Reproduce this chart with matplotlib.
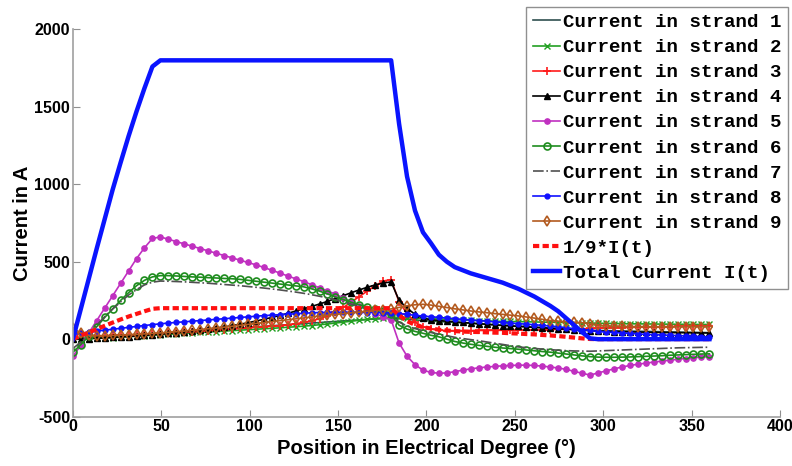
import numpy as np
import matplotlib
matplotlib.use('Agg')
import matplotlib.pyplot as plt

plt.rcParams['axes.unicode_minus'] = False

# Winkel (Grad) -- Messpunkte alle 4.5 Grad
winkel = np.arange(0, 360.1, 4.5)

strang1 = [0, 3, 6, 10, 13, 16, 20, 23, 27, 30,
           34, 37, 41, 44, 48, 51, 55, 58, 62, 65,
           69, 72, 76, 79, 83, 86, 90, 93, 97, 100,
           104, 107, 111, 114, 118, 121, 124, 127, 130, 132,
           134, 132, 128, 124, 120, 117, 114, 111, 108, 105,
           102, 99, 96, 93, 90, 87, 84, 81, 78, 75,
           72, 69, 66, 63, 60, 58, 56, 55, 54, 53,
           52, 51, 50, 49, 48, 47, 46, 45, 44, 43,
           42]
strang2 = [0, 2, 4, 6, 8, 10, 13, 16, 19, 22,
           25, 28, 31, 34, 37, 40, 43, 46, 49, 52,
           55, 58, 61, 64, 67, 70, 73, 77, 80, 84,
           88, 93, 98, 104, 110, 116, 122, 128, 133, 138,
           142, 140, 138, 136, 134, 132, 130, 128, 126, 124,
           122, 120, 118, 116, 115, 114, 113, 112, 111, 110,
           109, 108, 107, 106, 105, 104, 103, 102, 101, 100,
           99, 99, 98, 98, 97, 97, 96, 96, 95, 95,
           95]
strang3 = [50, 35, 25, 22, 22, 24, 26, 28, 30, 32,
           34, 36, 38, 41, 44, 47, 50, 53, 57, 61,
           65, 69, 73, 77, 80, 84, 88, 93, 100, 108,
           118, 132, 150, 175, 205, 240, 275, 310, 345, 375,
           385, 240, 165, 110, 80, 65, 58, 55, 55, 55,
           55, 56, 56, 57, 57, 58, 58, 59, 60, 61,
           62, 63, 64, 65, 67, 69, 72, 73, 74, 75,
           76, 77, 78, 79, 80, 81, 82, 83, 84, 85,
           85]
strang4 = [0, 2, 4, 6, 8, 11, 14, 17, 20, 24,
           28, 32, 37, 42, 47, 53, 59, 65, 72, 79,
           87, 96, 106, 117, 128, 140, 153, 167, 181, 196,
           211, 227, 244, 262, 281, 300, 318, 335, 350, 362,
           370, 250, 200, 160, 135, 125, 120, 116, 112, 108,
           104, 100, 96, 92, 88, 85, 82, 79, 76, 73,
           70, 67, 64, 61, 58, 55, 52, 50, 49, 48,
           47, 46, 45, 44, 43, 42, 42, 41, 41, 40,
           40]
strang5 = [-110, -40, 40, 120, 200, 280, 360, 440, 520, 590,
           650, 660, 645, 630, 615, 600, 585, 570, 555, 540,
           525, 510, 495, 480, 463, 445, 427, 408, 390, 372,
           352, 332, 312, 290, 265, 240, 215, 190, 165, 145,
           125, -25, -110, -165, -200, -215, -220, -218, -210, -200,
           -192, -185, -180, -176, -172, -170, -168, -168, -170, -174,
           -180, -186, -195, -208, -220, -232, -218, -205, -192, -180,
           -170, -162, -155, -148, -142, -136, -130, -125, -120, -116,
           -113]
strang6 = [-85, -35, 20, 80, 140, 195, 250, 300, 345, 380,
           402, 410, 410, 408, 405, 402, 400, 397, 395, 392,
           390, 386, 380, 374, 368, 362, 356, 350, 344, 338,
           325, 310, 292, 272, 255, 238, 222, 208, 195, 180,
           160, 90, 65, 50, 38, 25, 15, 0, -15, -25,
           -33, -40, -46, -52, -57, -61, -65, -70, -75, -80,
           -84, -90, -96, -102, -108, -113, -116, -117, -117, -116,
           -115, -113, -111, -109, -107, -104, -102, -100, -98, -96,
           -95]
strang7 = [-60, -20, 35, 90, 145, 195, 240, 285, 320, 350,
           368, 375, 374, 372, 370, 367, 364, 361, 357, 353,
           349, 345, 340, 335, 330, 324, 318, 311, 304, 296,
           287, 277, 266, 254, 240, 226, 212, 198, 184, 170,
           155, 110, 85, 68, 55, 43, 32, 22, 12, 4,
           -3, -10, -18, -26, -34, -42, -50, -55, -60, -64,
           -68, -71, -74, -76, -77, -78, -76, -74, -72, -70,
           -68, -66, -64, -62, -60, -58, -56, -55, -54, -53,
           -52]
strang8 = [30, 38, 45, 52, 58, 64, 70, 76, 82, 88,
           94, 99, 104, 108, 112, 116, 120, 124, 128, 132,
           136, 140, 144, 148, 152, 155, 158, 161, 164, 167,
           170, 172, 173, 174, 174, 174, 173, 172, 172, 171,
           170, 165, 160, 154, 149, 145, 140, 136, 132, 128,
           124, 120, 116, 112, 108, 104, 100, 97, 93, 89,
           85, 80, 74, 68, 62, 56, 50, 46, 43, 40,
           37, 34, 31, 29, 27, 25, 23, 21, 19, 17,
           15]
strang9 = [70, 40, 25, 22, 22, 24, 26, 28, 31, 34,
           37, 40, 44, 48, 52, 57, 62, 67, 72, 77,
           83, 89, 95, 101, 107, 113, 119, 125, 131, 137,
           143, 149, 155, 160, 165, 170, 175, 180, 185, 190,
           195, 205, 215, 222, 225, 220, 212, 204, 196, 189,
           182, 176, 171, 165, 160, 155, 150, 143, 136, 128,
           120, 116, 112, 109, 106, 100, 90, 85, 83, 82,
           81, 81, 81, 80, 80, 80, 80, 80, 80, 80,
           80]
neuntel = [0, 22, 43, 65, 86, 107, 127, 146, 163, 180,
           196, 200, 200, 200, 200, 200, 200, 200, 200, 200,
           200, 200, 200, 200, 200, 200, 200, 200, 200, 200,
           200, 200, 200, 200, 200, 200, 200, 200, 200, 200,
           200, 154, 117, 92, 77, 69, 61, 56, 52, 49,
           47, 46, 44, 42, 41, 38, 36, 33, 31, 27,
           24, 20, 15, 10, 5, 1, 0, 0, 0, 0,
           0, 0, 0, 0, 0, 0, 0, 0, 0, 0,
           0]
gesamt = [0, 195, 390, 585, 775, 965, 1140, 1310, 1470, 1620,
          1760, 1800, 1800, 1800, 1800, 1800, 1800, 1800, 1800, 1800,
          1800, 1800, 1800, 1800, 1800, 1800, 1800, 1800, 1800, 1800,
          1800, 1800, 1800, 1800, 1800, 1800, 1800, 1800, 1800, 1800,
          1800, 1390, 1050, 830, 690, 620, 545, 500, 465, 445,
          425, 410, 395, 380, 365, 345, 325, 300, 275, 245,
          215, 180, 135, 90, 45, 5, 0, 0, 0, 0,
          0, 0, 0, 0, 0, 0, 0, 0, 0, 0,
          0]

fig = plt.figure(figsize=(7.92, 4.66), dpi=100)
ax = fig.add_axes([0.092, 0.106, 0.893, 0.831])

ax.plot(winkel, strang1, color='#2f4f4f', lw=1.2, label='Current in strand 1')
ax.plot(winkel, strang2, color='#22a022', lw=1.2, marker='x', ms=4, mew=1, label='Current in strand 2')
ax.plot(winkel, strang3, color='#ff1a1a', lw=1.2, marker='+', ms=6, mew=1.2, label='Current in strand 3')
ax.plot(winkel, strang4, color='k', lw=1.2, marker='^', ms=4.5, label='Current in strand 4')
ax.plot(winkel, strang5, color='#c030c0', lw=1.2, marker='o', ms=3.8, label='Current in strand 5')
ax.plot(winkel, strang6, color='#1e8c1e', lw=1.2, marker='o', ms=5, mfc='none', mew=1.2, label='Current in strand 6')
ax.plot(winkel, strang7, color='#505050', lw=1.2, ls='-.', label='Current in strand 7')
ax.plot(winkel, strang8, color='#1010ff', lw=1.2, marker='o', ms=3.5, label='Current in strand 8')
ax.plot(winkel, strang9, color='#b35a1f', lw=1.2, marker='d', ms=5, mfc='none', mew=1.2, label='Current in strand 9')
ax.plot(winkel, neuntel, color='#ff1010', lw=3, ls=(0, (1.5, 0.8)), label='1/9*I(t)')
ax.plot(winkel, gesamt, color='#0a14ff', lw=3.2, label='Total Current I(t)')

ax.set_xlim(0, 400)
ax.set_ylim(-500, 2000)
ax.set_xticks(np.arange(0, 401, 50))
ax.set_yticks(np.arange(-500, 2001, 500))
for s in ['top', 'right']:
    ax.spines[s].set_visible(False)
for s in ['left', 'bottom']:
    ax.spines[s].set_color('#a0a0a0')
    ax.spines[s].set_linewidth(1.2)
ax.tick_params(direction='in', length=5, color='#909090', pad=2)
for lab in ax.get_xticklabels() + ax.get_yticklabels():
    lab.set_fontfamily('Liberation Sans')
    lab.set_fontweight('bold')
    lab.set_fontsize(11.5)

ax.set_xlabel('Position in Electrical Degree (°)', fontsize=14.5, fontweight='bold',
              family='Liberation Sans', labelpad=3)
ax.set_ylabel('Current in A', fontsize=14.5, fontweight='bold',
              family='Liberation Sans', labelpad=2)

leg = fig.legend(loc='upper right', bbox_to_anchor=(788 / 792, 1 - 7 / 466),
                 prop={'family': 'Liberation Mono', 'weight': 'bold', 'size': 13.8},
                 handlelength=1.4, handletextpad=0.15, labelspacing=0.4,
                 borderpad=0.35, fancybox=False, framealpha=1, borderaxespad=0)
leg.get_frame().set_edgecolor('#909090')
leg.get_frame().set_linewidth(1.0)

fig.savefig('out.png', dpi=100)
